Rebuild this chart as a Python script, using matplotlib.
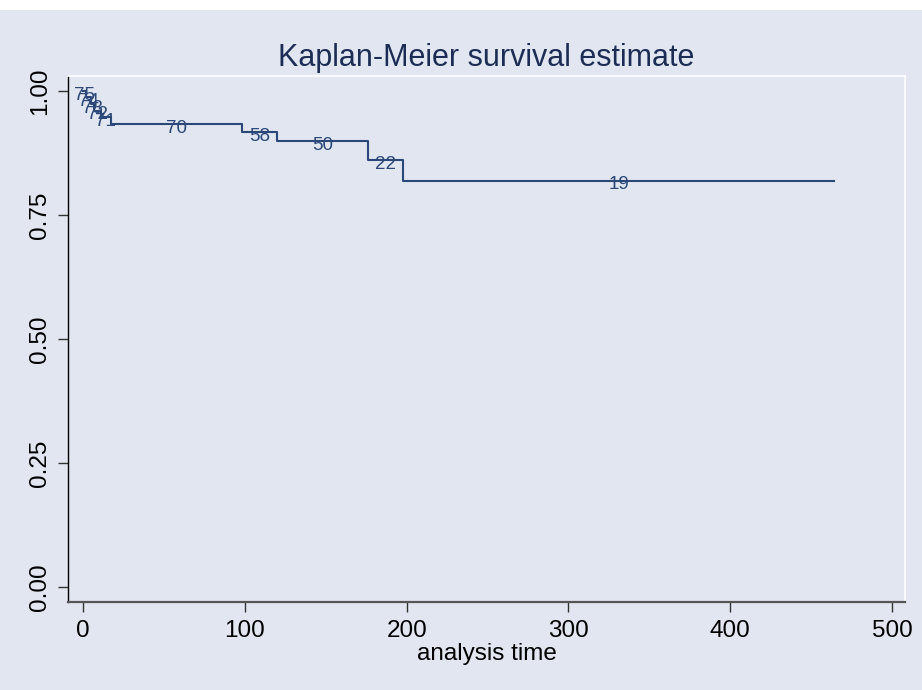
import matplotlib
matplotlib.use('Agg')
import matplotlib.pyplot as plt
from matplotlib.patches import Rectangle

plt.rcParams['font.family'] = ['Liberation Sans', 'DejaVu Sans']

# Kaplan-Meier step data
times = [0, 2, 5, 7, 11, 17, 98, 120, 176, 198, 464]
survival = [1.0, 0.9867, 0.9733, 0.96, 0.9467, 0.9333, 0.917, 0.899, 0.86, 0.819, 0.819]
at_risk = [75, 74, 73, 72, 71, 70, 58, 50, 22, 19]

x_ticks = [0, 100, 200, 300, 400, 500]
y_ticks = [0.00, 0.25, 0.50, 0.75, 1.00]
y_tick_labels = ['0.00', '0.25', '0.50', '0.75', '1.00']

bg = '#e1e6f0'
navy = '#2b4878'

fig = plt.figure(figsize=(9.22, 6.9), dpi=100, facecolor='white')
# background below the thin white strip at the top
fig.patches.append(Rectangle((0, 0), 1, 680 / 690, transform=fig.transFigure,
                             facecolor=bg, edgecolor='none', zorder=-10))

ax = fig.add_axes([68 / 922, (690 - 601.7) / 690, (905 - 68) / 922, (601.7 - 76) / 690])
ax.set_facecolor(bg)

# Survival curve
ax.step(times, survival, where='post', color=navy, linewidth=1.5)

# Numbers at risk at the middle of each interval
for i in range(len(at_risk)):
    mid = (times[i] + times[i + 1]) / 2
    ax.annotate(str(at_risk[i]), (mid, survival[i]), xytext=(0, -3),
                textcoords='offset points', ha='center', va='center',
                fontsize=13.5, color=navy)

ax.set_xlim(-9.3, 508)
ax.set_ylim(-0.03, 1.03)
ax.set_xticks(x_ticks)
ax.set_yticks(y_ticks)
ax.set_yticklabels(y_tick_labels, rotation=90, va='center')
ax.tick_params(axis='both', labelsize=17.5, length=7, width=1, color='#333333')
ax.tick_params(axis='x', pad=6)
ax.tick_params(axis='y', pad=5)

ax.set_title('Kaplan-Meier survival estimate', fontsize=22, color='#1c2d55', pad=7)
ax.set_xlabel('analysis time', fontsize=17.5, labelpad=1)

# Axis lines
ax.spines['left'].set_color('black')
ax.spines['left'].set_linewidth(1)
ax.spines['bottom'].set_color('#555555')
ax.spines['bottom'].set_linewidth(1.6)
ax.spines['top'].set_color('white')
ax.spines['right'].set_color('white')
ax.spines['top'].set_linewidth(1.2)
ax.spines['right'].set_linewidth(1.2)

plt.savefig('out.png', dpi=100, facecolor=fig.get_facecolor())
